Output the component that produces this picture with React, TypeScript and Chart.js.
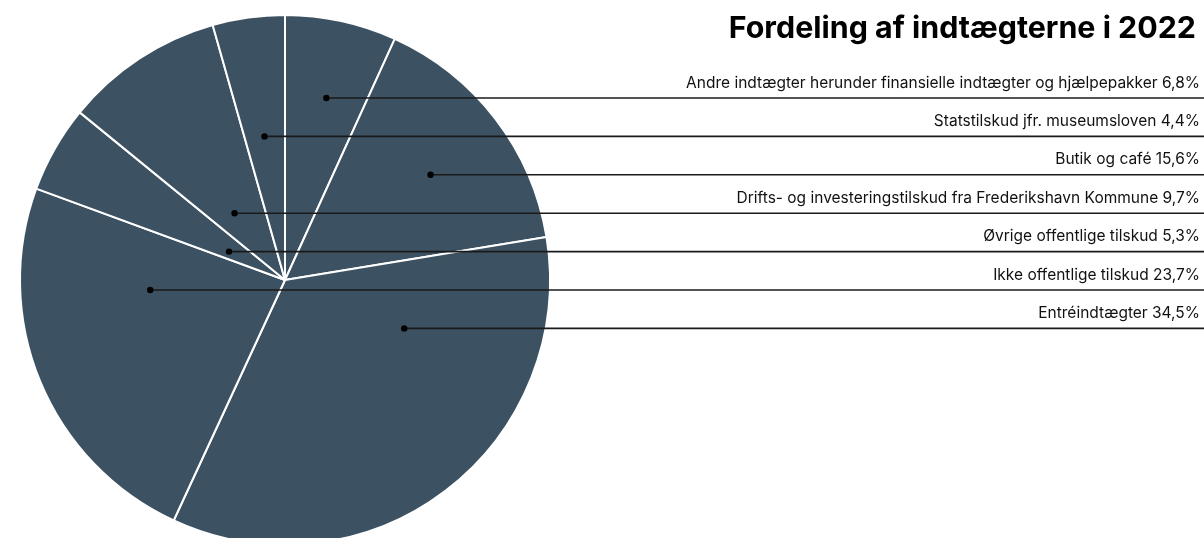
import React, { useEffect, useRef } from "react";
import { Chart, registerables } from "chart.js";

Chart.register(...registerables);

const TITLE = "Fordeling af indtægterne i 2022";

// Slices in clockwise order starting at 12 o'clock
const categories = [
  "Andre indtægter herunder finansielle indtægter og hjælpepakker",
  "Butik og café",
  "Entréindtægter",
  "Ikke offentlige tilskud",
  "Øvrige offentlige tilskud",
  "Drifts- og investeringstilskud fra Frederikshavn Kommune",
  "Statstilskud jfr. museumsloven",
];
const shares = [6.8, 15.6, 34.5, 23.7, 5.3, 9.7, 4.4];

// Order of the callout rows on the right
const legendOrder = [
  "Andre indtægter herunder finansielle indtægter og hjælpepakker",
  "Statstilskud jfr. museumsloven",
  "Butik og café",
  "Drifts- og investeringstilskud fra Frederikshavn Kommune",
  "Øvrige offentlige tilskud",
  "Ikke offentlige tilskud",
  "Entréindtægter",
];

const fmt = (v: number) => v.toFixed(1).replace(".", ",") + "%";

const SLICE_COLOR = "#3c5162";
const ROW_TOP = 98;
const ROW_STEP = 38.4;
const FONT = "Inter, 'Noto Sans', sans-serif";

const calloutPlugin = {
  id: "callouts",
  afterDatasetsDraw(chart: any) {
    const ctx: CanvasRenderingContext2D = chart.ctx;
    const meta = chart.getDatasetMeta(0);
    const W = chart.width;
    ctx.save();
    ctx.fillStyle = "#000";
    ctx.textAlign = "right";
    ctx.textBaseline = "alphabetic";
    ctx.font = `bold 30.4px ${FONT}`;
    ctx.fillText(TITLE, 1196, 38);

    legendOrder.forEach((name, row) => {
      const i = categories.indexOf(name);
      const arc: any = meta.data[i];
      const p = arc.getProps(["x", "y", "startAngle", "endAngle", "outerRadius"], true);
      const ly = ROW_TOP + row * ROW_STEP;
      const dy = ly - p.y;
      let dotX = p.x;
      if (Math.abs(dy) < p.outerRadius) {
        const half = Math.sqrt(p.outerRadius * p.outerRadius - dy * dy);
        let minX = Infinity;
        let maxX = -Infinity;
        const span = p.endAngle - p.startAngle;
        for (let x = p.x - half; x <= p.x + half; x += 0.5) {
          let a = Math.atan2(dy, x - p.x) - p.startAngle;
          a = ((a % (2 * Math.PI)) + 2 * Math.PI) % (2 * Math.PI);
          if (a <= span) {
            if (x < minX) minX = x;
            if (x > maxX) maxX = x;
          }
        }
        if (isFinite(minX)) dotX = (minX + maxX) / 2;
      }
      // leader line
      ctx.strokeStyle = "#1a1a1a";
      ctx.lineWidth = 1.6;
      ctx.beginPath();
      ctx.moveTo(dotX, ly);
      ctx.lineTo(W, ly);
      ctx.stroke();
      // dot
      ctx.fillStyle = "#000";
      ctx.beginPath();
      ctx.arc(dotX, ly, 3.2, 0, Math.PI * 2);
      ctx.fill();
      // label
      ctx.fillStyle = "#111";
      ctx.font = `15.5px ${FONT}`;
      ctx.fillText(`${name} ${fmt(shares[i])}`, 1200, ly - 10.5);
    });
    ctx.restore();
  },
};

export default function App() {
  const ref = useRef<HTMLCanvasElement | null>(null);
  useEffect(() => {
    document.body.style.margin = "0";
    const canvas = ref.current!;
    const chart = new Chart(canvas, {
      type: "pie",
      data: {
        labels: categories,
        datasets: [
          {
            data: shares,
            backgroundColor: SLICE_COLOR,
            borderColor: "#ffffff",
            borderWidth: 2,
          },
        ],
      },
      options: {
        responsive: false,
        animation: false,
        layout: { padding: { left: 19, top: 14, right: 653, bottom: 14 } },
        plugins: {
          legend: { display: false },
          tooltip: { enabled: false },
          title: { display: false },
        },
      },
      plugins: [calloutPlugin],
    });
    return () => chart.destroy();
  }, []);
  return (
    <div style={{ position: "absolute", left: 0, top: 0, width: 1204, height: 538, overflow: "hidden", background: "#fff" }}>
      <canvas ref={ref} width={1204} height={560} style={{ width: 1204, height: 560, display: "block" }} />
    </div>
  );
}
